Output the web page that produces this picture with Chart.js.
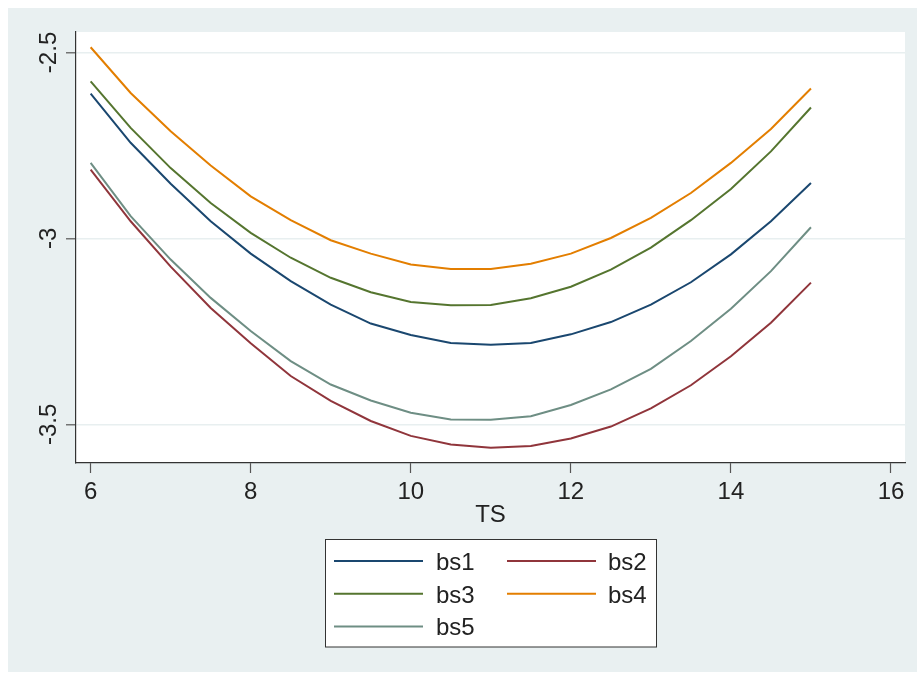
<!DOCTYPE html>
<html>
<head>
<meta charset="utf-8">
<script src="https://cdn.jsdelivr.net/npm/chart.js@4.4.1/dist/chart.umd.min.js"></script>
<style>
html,body{margin:0;padding:0;background:#fff;}
#wrap{width:917px;height:673px;}
</style>
</head>
<body>
<div id="wrap"><canvas id="c" width="917" height="673"></canvas></div>
<script>
const ts = [6, 6.5, 7, 7.5, 8, 8.5, 9, 9.5, 10, 10.5, 11, 11.5, 12, 12.5, 13, 13.5, 14, 14.5, 15];
const bs1 = [-2.611,-2.743,-2.853,-2.954,-3.041,-3.115,-3.178,-3.229,-3.260,-3.281,-3.286,-3.281,-3.258,-3.225,-3.178,-3.118,-3.043,-2.954,-2.851];
const bs2 = [-2.815,-2.954,-3.076,-3.187,-3.282,-3.370,-3.437,-3.491,-3.531,-3.554,-3.563,-3.558,-3.538,-3.506,-3.457,-3.395,-3.317,-3.227,-3.119];
const bs3 = [-2.578,-2.703,-2.811,-2.905,-2.985,-3.052,-3.106,-3.145,-3.171,-3.180,-3.179,-3.161,-3.130,-3.084,-3.025,-2.951,-2.867,-2.766,-2.648];
const bs4 = [-2.486,-2.609,-2.712,-2.804,-2.887,-2.951,-3.005,-3.041,-3.070,-3.082,-3.082,-3.068,-3.041,-2.999,-2.945,-2.878,-2.797,-2.706,-2.597];
const bs5 = [-2.797,-2.940,-3.057,-3.160,-3.249,-3.330,-3.393,-3.436,-3.469,-3.487,-3.488,-3.478,-3.448,-3.406,-3.351,-3.276,-3.189,-3.088,-2.970];
const seriesNames = ["bs1", "bs2", "bs3", "bs4", "bs5"];
const seriesValues = [bs1, bs2, bs3, bs4, bs5];
const xTicks = [6, 8, 10, 12, 14, 16];
const yTicks = [-2.5, -3, -3.5];
const xTitle = "TS";

const colors = ["#1A476F", "#90353B", "#55752F", "#E37E00", "#6E8E84"];
const FONT = "'Liberation Sans', Arial, sans-serif";
const TEXT = "#222222";

const datasets = seriesNames.map((n, i) => ({
  label: n,
  data: ts.map((x, j) => ({x: x, y: seriesValues[i][j]})),
  borderColor: colors[i],
  backgroundColor: colors[i],
  borderWidth: 2,
  pointRadius: 0,
  tension: 0,
  fill: false
}));

const bgPlugin = {
  id: 'bg',
  beforeDraw(chart) {
    const ctx = chart.ctx;
    const a = chart.chartArea;
    ctx.save();
    ctx.fillStyle = '#ffffff';
    ctx.fillRect(0, 0, chart.width, chart.height);
    ctx.fillStyle = '#E9F0F1';
    ctx.fillRect(8, 8, chart.width - 8, 664);
    ctx.fillStyle = '#ffffff';
    ctx.fillRect(a.left, a.top, a.right - a.left, a.bottom - a.top);
    ctx.restore();
  }
};

const textPlugin = {
  id: 'texts',
  afterDraw(chart) {
    const ctx = chart.ctx;
    const xs = chart.scales.x, ys = chart.scales.y;
    const a = chart.chartArea;
    ctx.save();
    ctx.fillStyle = TEXT;
    ctx.font = "24px " + FONT;
    ctx.textAlign = 'center';
    ctx.textBaseline = 'alphabetic';
    xs.ticks.forEach(t => {
      ctx.fillText(String(t.value), xs.getPixelForValue(t.value), a.bottom + 36);
    });
    ctx.fillText(xTitle, (a.left + a.right) / 2, a.bottom + 59);
    ys.ticks.forEach(t => {
      const py = ys.getPixelForValue(t.value);
      ctx.save();
      ctx.translate(a.left - 20, py);
      ctx.rotate(-Math.PI / 2);
      ctx.textAlign = 'center';
      ctx.fillText(String(t.value), 0, 0);
      ctx.restore();
    });
    const bx = 325.5, by = 539.5, bw = 331, bh = 107.5;
    ctx.fillStyle = '#ffffff';
    ctx.fillRect(bx, by, bw, bh);
    ctx.strokeStyle = '#333333';
    ctx.lineWidth = 1;
    ctx.strokeRect(bx, by, bw, bh);
    chart.data.datasets.forEach((ds, i) => {
      const col = i % 2, row = Math.floor(i / 2);
      const ly = 561 + row * 32.7;
      const lx0 = col === 0 ? 334 : 507;
      const lx1 = lx0 + 89;
      ctx.strokeStyle = ds.borderColor;
      ctx.lineWidth = 2;
      ctx.beginPath();
      ctx.moveTo(lx0, ly);
      ctx.lineTo(lx1, ly);
      ctx.stroke();
      ctx.fillStyle = TEXT;
      ctx.textAlign = 'left';
      ctx.textBaseline = 'alphabetic';
      ctx.fillText(ds.label, col === 0 ? 436 : 608, ly + 9);
    });
    ctx.restore();
  }
};

new Chart(document.getElementById('c'), {
  type: 'line',
  data: { datasets: datasets },
  options: {
    responsive: false,
    animation: false,
    events: [],
    layout: { padding: { left: 0, top: 32, right: 12, bottom: 0 } },
    plugins: { legend: { display: false }, tooltip: { enabled: false } },
    scales: {
      x: {
        type: 'linear',
        min: 5.817,
        max: 16.175,
        afterBuildTicks: s => { s.ticks = xTicks.map(v => ({value: v})); },
        afterFit: s => { s.height = 210; },
        ticks: { display: false },
        grid: { drawOnChartArea: false, drawTicks: true, tickLength: 10, tickColor: '#555555', tickWidth: 1.2 },
        border: { display: true, color: '#333333', width: 1.2 }
      },
      y: {
        type: 'linear',
        min: -3.604,
        max: -2.445,
        afterBuildTicks: s => { s.ticks = yTicks.map(v => ({value: v})); },
        afterFit: s => { s.width = 76; },
        ticks: { display: false },
        grid: { drawOnChartArea: true, color: '#E8EFF0', lineWidth: 1.6, drawTicks: true, tickLength: 10, tickColor: '#555555', tickWidth: 1.2 },
        border: { display: true, color: '#333333', width: 1.2 }
      }
    }
  },
  plugins: [bgPlugin, textPlugin]
});
</script>
</body>
</html>
